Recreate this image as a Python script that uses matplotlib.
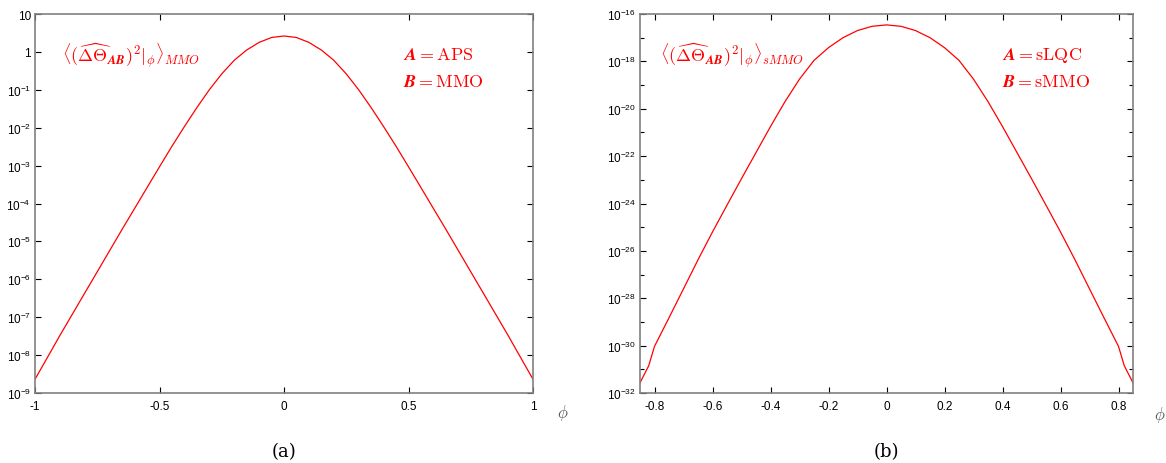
import numpy as np
import matplotlib
matplotlib.use("Agg")
import matplotlib.pyplot as plt
from matplotlib.ticker import FixedLocator, FuncFormatter, NullFormatter

plt.rcParams['font.family'] = ['Liberation Sans', 'DejaVu Sans']
plt.rcParams['mathtext.fontset'] = 'cm'

# ---------------- data ----------------
phi_a = [-1.0, -0.95, -0.9, -0.85, -0.8, -0.75, -0.7, -0.65, -0.6, -0.55, -0.5,
         -0.45, -0.4, -0.35, -0.3, -0.25, -0.2, -0.15, -0.1, -0.05, 0.0,
         0.05, 0.1, 0.15, 0.2, 0.25, 0.3, 0.35, 0.4, 0.45, 0.5,
         0.55, 0.6, 0.65, 0.7, 0.75, 0.8, 0.85, 0.9, 0.95, 1.0]
val_a = [2.3e-9, 8.7e-9, 3.3e-8, 1.2e-7, 4.37e-7, 1.58e-6, 5.75e-6, 2.09e-5, 7.4e-5, 2.63e-4, 9.3e-4,
         3.24e-3, 1.07e-2, 3.39e-2, 1.0e-1, 2.63e-1, 6.0e-1, 1.12, 1.78, 2.4, 2.63,
         2.4, 1.78, 1.12, 6.0e-1, 2.63e-1, 1.0e-1, 3.39e-2, 1.07e-2, 3.24e-3, 9.3e-4,
         2.63e-4, 7.4e-5, 2.09e-5, 5.75e-6, 1.58e-6, 4.37e-7, 1.2e-7, 3.3e-8, 8.7e-9, 2.3e-9]

phi_b = [-0.85, -0.845, -0.82, -0.8, -0.75, -0.7, -0.65, -0.6, -0.55, -0.5, -0.45,
         -0.4, -0.35, -0.3, -0.25, -0.2, -0.15, -0.1, -0.05, 0.0,
         0.05, 0.1, 0.15, 0.2, 0.25, 0.3, 0.35, 0.4, 0.45, 0.5,
         0.55, 0.6, 0.65, 0.7, 0.75, 0.8, 0.82, 0.845, 0.85]
val_b = [2.63e-32, 3.55e-32, 1.41e-31, 9.3e-31, 1.5e-29, 2.5e-28, 4.2e-27, 6.3e-26, 8.5e-25, 1.12e-23, 1.41e-22,
         1.78e-21, 2.0e-20, 1.78e-19, 1.1e-18, 3.8e-18, 1.0e-17, 2.0e-17, 3.02e-17, 3.47e-17,
         3.02e-17, 2.0e-17, 1.0e-17, 3.8e-18, 1.1e-18, 1.78e-19, 2.0e-20, 1.78e-21, 1.41e-22, 1.12e-23,
         8.5e-25, 6.3e-26, 4.2e-27, 2.5e-28, 1.5e-29, 9.3e-31, 1.41e-31, 3.55e-32, 2.63e-32]

xticks_a = [-1, -0.5, 0, 0.5, 1]
yticks_a_exp = list(range(-9, 2))
xticks_b = [-0.8, -0.6, -0.4, -0.2, 0, 0.2, 0.4, 0.6, 0.8]
yticks_b_exp = list(range(-32, -15, 2))
yminor_b_exp = list(range(-31, -16, 2))

label_a = r'$\langle(\widehat{\Delta\Theta}_{\boldsymbol{AB}})^2|_{\phi}\rangle_{MMO}$'
label_b = r'$\langle(\widehat{\Delta\Theta}_{\boldsymbol{AB}})^2|_{\phi}\rangle_{sMMO}$'
legend_a = [r'$\boldsymbol{A} = \mathrm{APS}$', r'$\boldsymbol{B} = \mathrm{MMO}$']
legend_b = [r'$\boldsymbol{A} = \mathrm{sLQC}$', r'$\boldsymbol{B} = \mathrm{sMMO}$']

RED = '#ff0000'
W, H = 1166, 464
fig = plt.figure(figsize=(W / 100, H / 100), dpi=100)


def ax_rect(l, r, t, b):
    return [l / W, 1 - b / H, (r - l) / W, (b - t) / H]


def fmt_exp(v, pos):
    e = int(round(np.log10(v)))
    if e == 1:
        return '10'
    if e == 0:
        return '1'
    return r'$\mathregular{10^{%d}}$' % e


def fmt_x(v, pos):
    return '%g' % v


def style(ax):
    for sp in ax.spines.values():
        sp.set_color('#808080')
        sp.set_linewidth(1.2)
    ax.tick_params(which='both', direction='in', top=True, right=True,
                   colors='black', labelsize=8.5, width=0.8)
    ax.tick_params(which='major', length=4.5, pad=5)
    ax.tick_params(which='minor', length=3)
    ax.tick_params(axis='y', pad=3)
    ax.yaxis.set_minor_formatter(NullFormatter())
    ax.xaxis.set_minor_formatter(NullFormatter())


# ---------------- panel (a) ----------------
axa = fig.add_axes(ax_rect(35, 533, 15, 394))
axa.plot(phi_a, val_a, color=RED, lw=0.9)
axa.set_yscale('log')
axa.set_xlim(-1, 1)
axa.set_ylim(1e-9, 10)
axa.xaxis.set_major_locator(FixedLocator(xticks_a))
axa.xaxis.set_minor_locator(FixedLocator([]))
axa.yaxis.set_major_locator(FixedLocator([10.0 ** e for e in yticks_a_exp]))
axa.yaxis.set_minor_locator(FixedLocator([]))
axa.yaxis.set_major_formatter(FuncFormatter(fmt_exp))
axa.xaxis.set_major_formatter(FuncFormatter(fmt_x))
style(axa)
axa.text(0.055, 0.893, label_a, transform=axa.transAxes, color=RED, fontsize=13,
         va='center', ha='left')
axa.text(0.738, 0.894, legend_a[0], transform=axa.transAxes, color=RED, fontsize=13,
         va='center', ha='left')
axa.text(0.738, 0.821, legend_a[1], transform=axa.transAxes, color=RED, fontsize=13,
         va='center', ha='left')
fig.text(563 / W, 1 - 413 / H, r'$\phi$', color='#555555', fontsize=12, ha='center', va='center')
fig.text(284 / W, 1 - 452 / H, '(a)', fontsize=13, ha='center', va='center',
         family='DejaVu Serif')

# ---------------- panel (b) ----------------
axb = fig.add_axes(ax_rect(640, 1133, 15, 394))
axb.plot(phi_b, val_b, color=RED, lw=0.9)
axb.set_yscale('log')
axb.set_xlim(-0.85, 0.85)
axb.set_ylim(1e-32, 1e-16)
axb.xaxis.set_major_locator(FixedLocator(xticks_b))
axb.xaxis.set_minor_locator(FixedLocator([]))
axb.yaxis.set_major_locator(FixedLocator([10.0 ** e for e in yticks_b_exp]))
axb.yaxis.set_minor_locator(FixedLocator([10.0 ** e for e in yminor_b_exp]))
axb.yaxis.set_major_formatter(FuncFormatter(fmt_exp))
axb.xaxis.set_major_formatter(FuncFormatter(fmt_x))
style(axb)
axb.text(0.04, 0.893, label_b, transform=axb.transAxes, color=RED, fontsize=13,
         va='center', ha='left')
axb.text(0.735, 0.894, legend_b[0], transform=axb.transAxes, color=RED, fontsize=13,
         va='center', ha='left')
axb.text(0.735, 0.821, legend_b[1], transform=axb.transAxes, color=RED, fontsize=13,
         va='center', ha='left')
fig.text(1160 / W, 1 - 415 / H, r'$\phi$', color='#555555', fontsize=12, ha='center', va='center')
fig.text(886 / W, 1 - 452 / H, '(b)', fontsize=13, ha='center', va='center',
         family='DejaVu Serif')

fig.savefig('out.png', dpi=100)
